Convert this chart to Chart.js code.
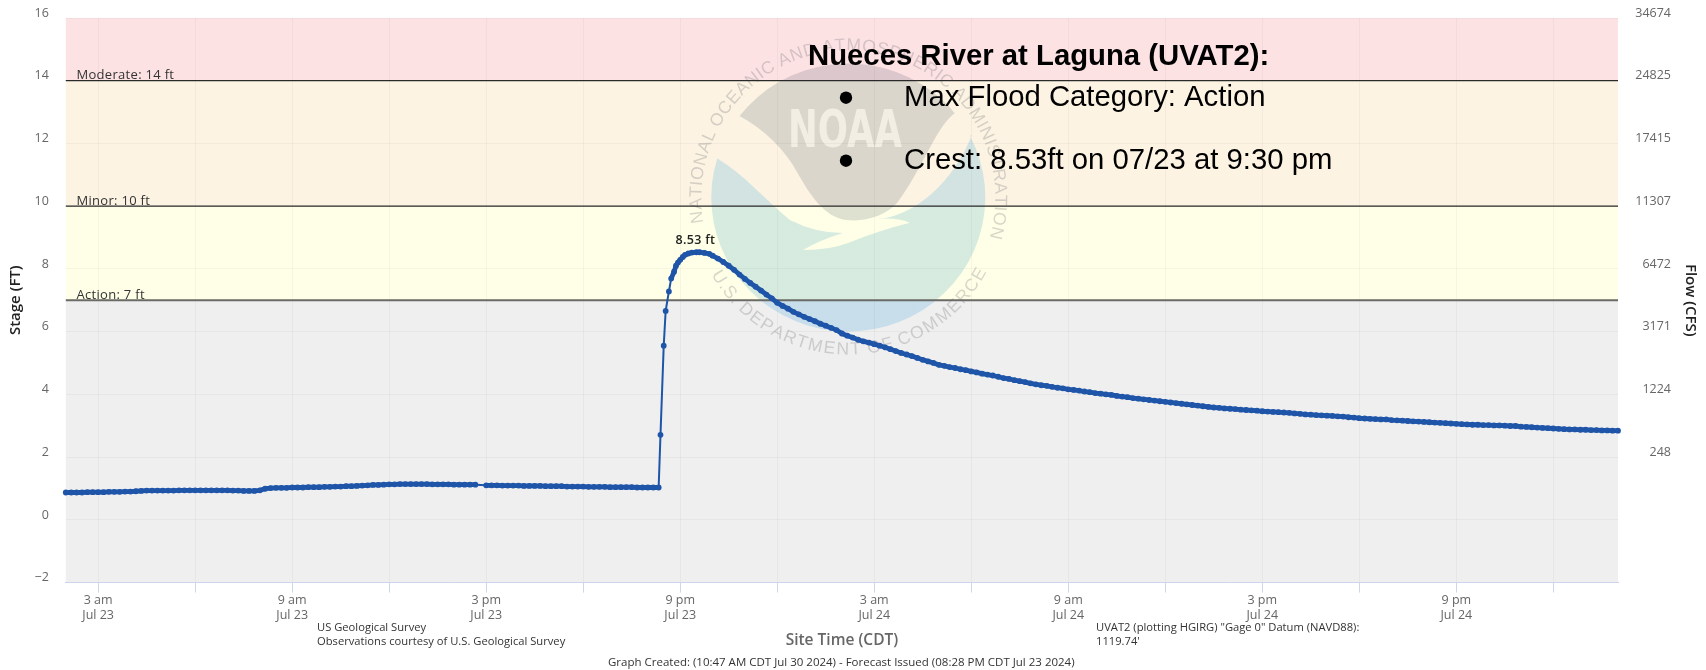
<!DOCTYPE html>
<html><head><meta charset="utf-8">
<style>html,body{margin:0;padding:0;background:#fff;overflow:hidden}#w{position:relative;width:1706px;height:670px}</style>
<script src="https://cdn.jsdelivr.net/npm/chart.js@4"></script></head>
<body><div id="w"><canvas id="c" width="1706" height="670"></canvas></div>
<script>
// Hours are counted from 00:00 on Jul 23
const axisStartHour = 2, axisEndHour = 50;
const tickHours = [3,6,9,12,15,18,21,24,27,30,33,36,39,42,45,48];
const tickLabels = [["3 am","Jul 23"],"",["9 am","Jul 23"],"",["3 pm","Jul 23"],"",["9 pm","Jul 23"],"",["3 am","Jul 24"],"",["9 am","Jul 24"],"",["3 pm","Jul 24"],"",["9 pm","Jul 24"],""];
const stageTicks = [16,14,12,10,8,6,4,2,0,-2];
const stageLabels = ["16","14","12","10","8","6","4","2","0","\u22122"];
const flowLabels = ["34674","24825","17415","11307","6472","3171","1224","248","",""];

const thresholdNames = ["Moderate: 14 ft","Minor: 10 ft","Action: 7 ft"];
const thresholdStages = [14,10,7];
const bandTops = [16,14,10,7];
const bandBottoms = [14,10,7,-2];
const bandColors = ["#fde2e4","#fcf3e3","#ffffe8","#efefef"];

// Observations every 10 minutes from 02:00 to 14:40
const morningStage = [
 .87,.87,.87,.87,.88,.88, .88,.88,.89,.89,.89,.90,
 .90,.91,.92,.93,.93,.93, .93,.93,.93,.94,.94,.94,
 .94,.94,.94,.94,.94,.94, .94,.93,.93,.92,.92,.92,
 .94,.99,1.01,1.02,1.02,1.02, 1.03,1.03,1.03,1.04,1.04,1.04,
 1.05,1.05,1.06,1.06,1.07,1.07, 1.08,1.09,1.10,1.11,1.11,1.12,
 1.13,1.13,1.14,1.14,1.14,1.14, 1.14,1.14,1.13,1.13,1.13,1.13,
 1.12,1.12,1.12,1.12,1.12];
// Observations every 10 minutes from 15:00 to 20:20
const afternoonStage = [
 1.10,1.10,1.10,1.09,1.09,1.09, 1.09,1.08,1.08,1.08,1.08,1.07,
 1.07,1.07,1.07,1.06,1.06,1.06, 1.06,1.05,1.05,1.05,1.05,1.04,
 1.04,1.04,1.04,1.04,1.03,1.03, 1.03,1.03,1.03];
// Rise and crest
const riseHours = [20.39,20.49,20.55,20.65,20.72,20.81,20.87,20.93,21.0,21.08,21.15,21.25,21.36,21.5,21.6,21.75,21.9];
const riseStage = [2.71,5.55,6.66,7.28,7.69,7.91,8.10,8.20,8.29,8.38,8.45,8.49,8.52,8.53,8.53,8.51,8.48];
// Observations every 10 minutes from 22:00 on Jul 23 to 02:00 on Jul 25
const recessionStage = [
 8.42,8.33,8.22,8.10,7.97,7.82, 7.68,7.55,7.43,7.31,7.18,7.06,
 6.92,6.82,6.73,6.63,6.55,6.47, 6.40,6.33,6.25,6.19,6.12,6.05,
 5.94,5.87,5.81,5.74,5.69,5.65, 5.60,5.55,5.50,5.44,5.38,5.32,
 5.27,5.22,5.16,5.10,5.05,5.00, 4.94,4.91,4.87,4.84,4.80,4.77,
 4.73,4.70,4.66,4.63,4.60,4.56, 4.52,4.49,4.45,4.42,4.39,4.35,
 4.32,4.29,4.27,4.24,4.21,4.19, 4.16,4.14,4.12,4.09,4.07,4.04,
 4.02,4.00,3.98,3.95,3.93,3.91, 3.88,3.86,3.84,3.82,3.80,3.78,
 3.76,3.74,3.72,3.70,3.68,3.66, 3.64,3.62,3.60,3.58,3.57,3.55,
 3.54,3.53,3.51,3.50,3.49,3.48, 3.46,3.45,3.44,3.43,3.42,3.41,
 3.39,3.38,3.36,3.35,3.34,3.33, 3.32,3.31,3.30,3.29,3.27,3.26,
 3.24,3.23,3.22,3.21,3.20,3.20, 3.18,3.17,3.16,3.15,3.14,3.13,
 3.12,3.11,3.10,3.09,3.08,3.07, 3.06,3.05,3.04,3.03,3.03,3.02,
 3.02,3.01,3.01,3.00,2.99,2.99, 2.97,2.96,2.95,2.94,2.93,2.92,
 2.91,2.90,2.89,2.88,2.88,2.87, 2.87,2.86,2.86,2.85,2.85,2.84,
 2.84];
const crestHour = 21.5, crestStage = 8.53, crestLabel = "8.53 ft";

const headline = "Nueces River at Laguna (UVAT2):";
const bulletLines = ["Max Flood Category: Action","Crest: 8.53ft on 07/23 at 9:30 pm"];
const footerLeft = ["US Geological Survey","Observations courtesy of U.S. Geological Survey"];
const footerRight = ['UVAT2 (plotting HGIRG) "Gage 0" Datum (NAVD88):',"1119.74'"];
const footerBottom = "Graph Created: (10:47 AM CDT Jul 30 2024) - Forecast Issued (08:28 PM CDT Jul 23 2024)";

const seriesPoints = [];
morningStage.forEach((y,i)=>seriesPoints.push({x:2+i/6,y}));
afternoonStage.forEach((y,i)=>seriesPoints.push({x:15+i/6,y}));
riseHours.forEach((x,i)=>seriesPoints.push({x,y:riseStage[i]}));
recessionStage.forEach((y,i)=>seriesPoints.push({x:22+i/6,y}));

const UI = '"Open Sans", sans-serif';
const ARIAL = '"Liberation Sans", Arial, sans-serif';

function ringText(ctx,text,cx,cy,r,a0,a1,font,inward){
  ctx.font=font; ctx.textAlign='center'; ctx.textBaseline='alphabetic';
  const w=[...text].map(ch=>ctx.measureText(ch).width);
  const total=w.reduce((a,b)=>a+b,0);
  let run=0;
  [...text].forEach((ch,i)=>{
    const a=a0+(a1-a0)*(run+w[i]/2)/total; run+=w[i];
    const rad=a*Math.PI/180;
    ctx.save();
    ctx.translate(cx+r*Math.cos(rad),cy+r*Math.sin(rad));
    ctx.rotate(inward?rad-Math.PI/2:rad+Math.PI/2);
    ctx.fillText(ch,0,0);
    ctx.restore();
  });
}

function drawLogo(ctx){
  const cx=848.3,cy=197.5,rx=137,ry=134;
  ctx.save();
  // lower lobe
  const g=ctx.createLinearGradient(0,140,0,332);
  g.addColorStop(0,'rgba(60,170,220,.22)');
  g.addColorStop(.34,'rgba(60,170,220,.22)');
  g.addColorStop(.35,'rgba(70,165,190,.22)');
  g.addColorStop(.835,'rgba(70,165,190,.22)');
  g.addColorStop(.84,'rgba(60,160,220,.22)');
  g.addColorStop(1,'rgba(60,160,220,.22)');
  ctx.beginPath();
  ctx.moveTo(716.7,158);
  ctx.bezierCurveTo(745,175,765,200,790,220);
  ctx.quadraticCurveTo(815,233,843,233);
  ctx.quadraticCurveTo(820,240,803,250);
  ctx.quadraticCurveTo(830,250,848,243);
  ctx.quadraticCurveTo(880,230,910,222.7);
  ctx.quadraticCurveTo(895,217,877,219);
  ctx.bezierCurveTo(915,217,955,180,971.7,135);
  ctx.ellipse(cx,cy,rx,ry,0,-27.4*Math.PI/180,197*Math.PI/180,false);
  ctx.closePath();
  ctx.fillStyle=g; ctx.fill();
  // upper shape
  ctx.beginPath();
  ctx.moveTo(739.6,116);
  ctx.ellipse(cx,cy,rx,ry,0,217.4*Math.PI/180,321*Math.PI/180,false);
  ctx.bezierCurveTo(935,128,925,165,897,203);
  ctx.bezierCurveTo(885,216,865,222,847,220);
  ctx.bezierCurveTo(825,218,810,195,797,172);
  ctx.bezierCurveTo(785,150,765,130,739.6,116);
  ctx.closePath();
  ctx.fillStyle='rgba(60,70,90,.17)'; ctx.fill();
  // wordmark
  ctx.save();
  ctx.font='bold 50px "DejaVu Sans", sans-serif';
  ctx.textAlign='left'; ctx.textBaseline='alphabetic';
  const wm=ctx.measureText('NOAA').width;
  ctx.translate(788,147);
  ctx.scale(114/wm,37/36.5);
  ctx.fillStyle='rgba(252,247,235,.72)';
  ctx.fillText('NOAA',0,0);
  ctx.restore();
  // ring lettering
  ctx.fillStyle='rgba(110,110,115,.28)';
  ringText(ctx,'NATIONAL OCEANIC AND ATMOSPHERIC ADMINISTRATION',cx,cy,147,170,376,'17.5px '+ARIAL,false);
  ringText(ctx,'U.S. DEPARTMENT OF COMMERCE',cx,cy,157,151,28,'17.5px '+ARIAL,true);
  ctx.restore();
}

const bandsAndLogo={id:'bandsAndLogo',beforeDraw(chart){
  const {ctx,chartArea:a,scales:{y}}=chart;
  ctx.save();
  bandTops.forEach((t,i)=>{
    const p0=y.getPixelForValue(t),p1=y.getPixelForValue(bandBottoms[i]);
    ctx.fillStyle=bandColors[i];
    ctx.fillRect(a.left,p0,a.right-a.left,p1-p0);
  });
  drawLogo(ctx);
  ctx.restore();
}};

const annotations={id:'annotations',afterDraw(chart){
  const {ctx,scales:{x,y}}=chart;
  ctx.save();
  ctx.textBaseline='middle';
  // threshold labels
  ctx.textAlign='left'; ctx.fillStyle='#333';
  ctx.font='13px '+UI; ctx.letterSpacing='0.3px';
  thresholdNames.forEach((t,i)=>ctx.fillText(t,76.5,y.getPixelForValue(thresholdStages[i])-5));
  // crest label
  ctx.textAlign='center'; ctx.font='600 12.5px '+UI; ctx.fillStyle='#222';
  ctx.fillText(crestLabel,x.getPixelForValue(crestHour)-1,y.getPixelForValue(crestStage)-12);
  ctx.letterSpacing='0px';
  // footers
  ctx.textAlign='left'; ctx.fillStyle='#333'; ctx.font='11.2px '+UI;
  footerLeft.forEach((t,i)=>ctx.fillText(t,317,628+i*14));
  footerRight.forEach((t,i)=>ctx.fillText(t,1096,628+i*14));
  ctx.font='11.5px '+UI;
  ctx.fillText(footerBottom,608,663);
  // headline
  ctx.fillStyle='#000';
  ctx.font='bold 29.3px '+ARIAL; ctx.fillText(headline,808,57);
  ctx.font='29.3px '+ARIAL;
  bulletLines.forEach((t,i)=>{
    ctx.fillText(t,904,[97.5,161][i]);
    ctx.beginPath(); ctx.arc(846,[97.7,160.7][i],6.2,0,Math.PI*2); ctx.fill();
  });
  ctx.restore();
}};

const thresholdDatasets=thresholdStages.map((s,i)=>({
  label:thresholdNames[i],
  data:[{x:axisStartHour,y:s},{x:axisEndHour,y:s}],
  borderColor:i===2?'#6a6a66':'#2a2a2a',
  borderWidth:i===2?2:1.3,
  pointRadius:0,order:5,clip:false
}));

function noPad(s){s.paddingTop=0;s.paddingBottom=0;s.paddingLeft=0;s.paddingRight=0;}

new Chart(document.getElementById('c'),{
  type:'line',
  data:{datasets:[...thresholdDatasets,{
    label:'Stage',data:seriesPoints,
    borderColor:'#1f55a8',borderWidth:2,
    segment:{borderWidth(c){
      const dx=c.p1.parsed.x-c.p0.parsed.x, dy=Math.abs(c.p1.parsed.y-c.p0.parsed.y);
      return dx<0.2&&dy<0.25?4.8:2;
    }},
    pointRadius:2.9,pointBackgroundColor:'#1f55a8',pointBorderWidth:0,
    tension:0,order:1,clip:false
  }]},
  plugins:[bandsAndLogo,annotations],
  options:{
    responsive:false,animation:false,
    layout:{padding:{top:18,left:0,right:35,bottom:0}},
    plugins:{legend:{display:false},tooltip:{enabled:false},title:{display:false}},
    scales:{
      x:{type:'linear',min:axisStartHour,max:axisEndHour,
        afterBuildTicks(s){s.ticks=tickHours.map(value=>({value}));},
        afterFit(s){s.height=87.5;noPad(s);},
        grid:{color:'rgba(0,0,0,.035)',tickColor:'#ccd6eb',tickLength:10,drawOnChartArea:true},
        border:{color:'#ccd6eb',width:1},
        ticks:{autoSkip:false,maxRotation:0,minRotation:0,padding:0,color:'#666',
          font:{family:UI,size:12.5,lineHeight:1.2},
          callback(v,i){return tickLabels[i];}},
        title:{display:true,text:'Site Time (CDT)',color:'#666',
          font:{family:UI,size:15.5,weight:'600'},padding:{top:0,bottom:20}}
      },
      y:{position:'left',min:-2,max:16,
        afterBuildTicks(s){s.ticks=stageTicks.map(value=>({value}));},
        afterFit(s){s.width=65.8;noPad(s);},
        grid:{color:'rgba(0,0,0,.035)',drawTicks:false},
        border:{display:false},
        ticks:{padding:17,labelOffset:-4.8,color:'#666',font:{family:UI,size:12.5},
          callback(v,i){return stageLabels[i];}},
        title:{display:true,text:'Stage (FT)',color:'#222',
          font:{family:UI,size:15,weight:'600'},padding:{top:6.3,bottom:0}}
      },
      y2:{position:'right',min:-2,max:16,
        afterBuildTicks(s){s.ticks=stageTicks.map(value=>({value}));},
        afterFit(s){s.width=53;noPad(s);},
        grid:{display:false,drawTicks:false},
        border:{display:false},
        ticks:{padding:17,labelOffset:-4.8,color:'#666',crossAlign:'far',font:{family:UI,size:12.5},
          callback(v,i){return flowLabels[i];}},
        title:{display:true,text:'Flow (CFS)',color:'#222',
          font:{family:UI,size:15,weight:'600'},padding:{top:-28.7,bottom:0}}
      }
    }
  }
});
</script></body></html>
